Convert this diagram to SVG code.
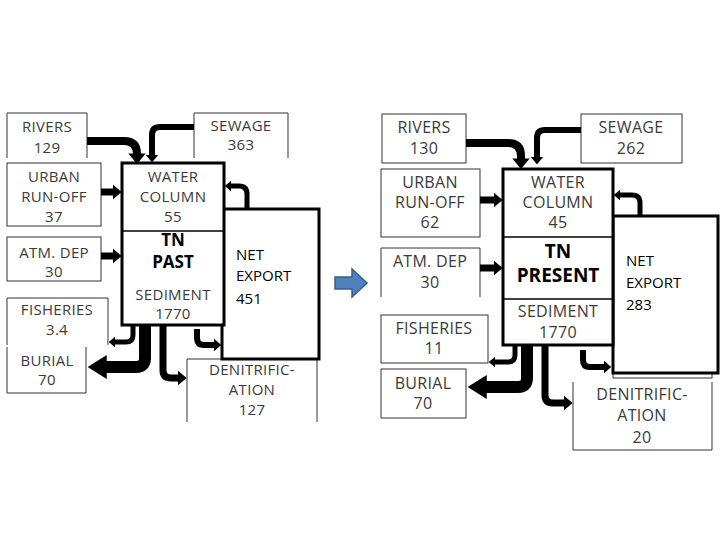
<svg xmlns="http://www.w3.org/2000/svg" width="720" height="540" viewBox="0 0 720 540">
<style>
.box{fill:#fff;stroke:#333;stroke-width:1}
.open{fill:none;stroke:#333;stroke-width:1}
.main{fill:#fff;stroke:#000;stroke-width:3}
.div{stroke:#000;stroke-width:1.5}
.t{font-family:"Open Sans","Liberation Sans",sans-serif;font-size:15px;fill:#3a3a3a;text-anchor:middle;letter-spacing:0.3px}
.r{font-size:16px}
.b{font-family:"Open Sans","Liberation Sans",sans-serif;font-weight:bold;fill:#000;text-anchor:middle;font-size:17px}
.n{font-family:"Open Sans","Liberation Sans",sans-serif;font-size:15px;fill:#000}
.a{fill:none;stroke:#000;stroke-linejoin:round}
</style>
<defs>
<marker id="ah" viewBox="0 0 6 10" refX="0.3" refY="5" markerWidth="1.3" markerHeight="2.2" orient="auto"><path d="M0,0 L6,5 L0,10 z" fill="#000"/></marker>
<marker id="big" viewBox="0 0 8 10" refX="0.3" refY="5" markerWidth="1.6" markerHeight="2.5" orient="auto"><path d="M0,0 L8,5 L0,10 z" fill="#000"/></marker>
</defs>
<rect width="720" height="540" fill="#fff"/>

<!-- LEFT PANEL -->
<g id="l-rivers"><path class="open" d="M7,158 V113 H87 V158"/><text class="t" x="47" y="132">RIVERS</text><text class="t" x="47" y="153">129</text></g>
<g id="l-urban"><rect class="box" x="7" y="163" width="94" height="63"/><text class="t" x="54" y="182">URBAN</text><text class="t" x="54" y="202">RUN-OFF</text><text class="t" x="54" y="222">37</text></g>
<g id="l-atm"><rect class="box" x="7" y="237" width="94" height="44"/><text class="t" x="54" y="258">ATM. DEP</text><text class="t" x="54" y="277">30</text></g>
<g id="l-fish"><path class="open" d="M7,345 V298 H108 V345"/><text class="t" x="57" y="315">FISHERIES</text><text class="t" x="57" y="335">3.4</text></g>
<g id="l-burial"><path class="open" d="M7,347 V393 H86 V347"/><text class="t" x="47" y="366">BURIAL</text><text class="t" x="47" y="385">70</text></g>
<g id="l-sewage"><path class="open" d="M194,158 V113 H288 V158"/><text class="t" x="241" y="131">SEWAGE</text><text class="t" x="241" y="150">363</text></g>
<g id="l-denit"><path class="open" d="M187,422 V359 H317 V422"/><text class="t" x="252" y="375">DENITRIFIC-</text><text class="t" x="252" y="395">ATION</text><text class="t" x="252" y="415">127</text></g>
<g id="l-export"><rect class="main" x="222" y="209" width="97" height="150"/><text class="n" x="236" y="260">NET</text><text class="n" x="236" y="281">EXPORT</text><text class="n" x="236" y="304">451</text></g>
<g id="l-water"><rect class="main" x="122" y="163" width="102" height="162"/><line class="div" x1="122" y1="231" x2="224" y2="231"/>
<text class="t" x="173" y="182">WATER</text><text class="t" x="173" y="202">COLUMN</text><text class="t" x="173" y="222">55</text>
<text class="b" x="173" y="246">TN</text><text class="b" x="173" y="268">PAST</text>
<text class="t" x="173" y="300">SEDIMENT</text><text class="t" x="173" y="319">1770</text></g>

<!-- RIGHT PANEL -->
<g id="r-rivers"><rect class="box" x="382" y="114" width="84" height="49"/><text class="t r" x="424" y="133">RIVERS</text><text class="t r" x="424" y="154">130</text></g>
<g id="r-urban"><rect class="box" x="381" y="169" width="99" height="68"/><text class="t r" x="430" y="188">URBAN</text><text class="t r" x="430" y="208">RUN-OFF</text><text class="t r" x="430" y="228">62</text></g>
<g id="r-atm"><path class="open" d="M381,297 V248 H480 V297"/><text class="t r" x="430" y="267">ATM. DEP</text><text class="t r" x="430" y="288">30</text></g>
<g id="r-fish"><rect class="box" x="381" y="315" width="107" height="48"/><text class="t r" x="434" y="334">FISHERIES</text><text class="t r" x="434" y="354">11</text></g>
<g id="r-burial"><rect class="box" x="381" y="369" width="85" height="49"/><text class="t r" x="423" y="389">BURIAL</text><text class="t r" x="423" y="409">70</text></g>
<g id="r-sewage"><rect class="box" x="581" y="114" width="101" height="49"/><text class="t r" x="631" y="133">SEWAGE</text><text class="t r" x="631" y="154">262</text></g>
<g id="r-denit"><path class="open" d="M573,382 V450 H712 V382"/><text class="t r" x="642" y="400">DENITRIFIC-</text><text class="t r" x="642" y="421">ATION</text><text class="t r" x="642" y="443">20</text></g>
<g id="r-export"><rect class="box" x="613" y="370" width="99" height="8"/><rect class="main" x="613" y="216" width="105" height="157"/><text class="n" x="626" y="266">NET</text><text class="n" x="626" y="288">EXPORT</text><text class="n" x="626" y="310">283</text></g>
<g id="r-water"><rect class="main" x="503" y="169" width="110" height="176"/><line class="div" x1="503" y1="237" x2="613" y2="237"/><line class="div" x1="503" y1="299" x2="613" y2="299"/>
<text class="t r" x="558" y="188">WATER</text><text class="t r" x="558" y="208">COLUMN</text><text class="t r" x="558" y="228">45</text>
<text class="b" x="558" y="258" style="font-size:19px">TN</text><text class="b" x="558" y="282" style="font-size:19px">PRESENT</text>
<text class="t r" x="558" y="317">SEDIMENT</text><text class="t r" x="558" y="338">1770</text></g>

<g id="transition"><path d="M335,277 H352 V269 L367,283 L352,297 V289 H335 Z" fill="#4f81bd" stroke="#385d8a" stroke-width="1.5"/></g>

<g id="connectors">
<path class="a" d="M87,141 H124 Q137,141 137,154" stroke-width="8" marker-end="url(#ah)"/>
<path class="a" d="M194,127 H160 Q152,127 152,135 V155" stroke-width="6" marker-end="url(#ah)"/>
<path class="a" d="M101,192 H113" stroke-width="7" marker-end="url(#ah)"/>
<path class="a" d="M101,256 H113" stroke-width="7" marker-end="url(#ah)"/>
<path class="a" d="M247,209 V194 Q247,186 239,186 H231" stroke-width="5" marker-end="url(#ah)"/>
<path class="a" d="M133,325 V335 Q133,342 126,342 H115" stroke-width="5" marker-end="url(#ah)"/>
<path class="a" d="M145,325 V358 Q145,367 136,367 H106" stroke-width="12" marker-end="url(#big)"/>
<path class="a" d="M163,325 V370 Q163,378 171,378 H178" stroke-width="7" marker-end="url(#ah)"/>
<path class="a" d="M197,329 V338 Q197,345 204,345 H214" stroke-width="6" marker-end="url(#ah)"/>

<path class="a" d="M466,143 H508 Q521,143 521,156 V159" stroke-width="8" marker-end="url(#ah)"/>
<path class="a" d="M581,130 H545 Q537,130 537,138 V157" stroke-width="6" marker-end="url(#ah)"/>
<path class="a" d="M480,200 H494" stroke-width="7" marker-end="url(#ah)"/>
<path class="a" d="M480,268 H494" stroke-width="7" marker-end="url(#ah)"/>
<path class="a" d="M640,216 V203 Q640,195 632,195 H620" stroke-width="5" marker-end="url(#ah)"/>
<path class="a" d="M515,345 V355 Q515,362 508,362 H495" stroke-width="5" marker-end="url(#ah)"/>
<path class="a" d="M527,345 V378 Q527,387 518,387 H486" stroke-width="12" marker-end="url(#big)"/>
<path class="a" d="M545,345 V395 Q545,403 553,403 H564" stroke-width="7" marker-end="url(#ah)"/>
<path class="a" d="M583,350 V360 Q583,367 590,367 H604" stroke-width="6" marker-end="url(#ah)"/>
</g>
</svg>
